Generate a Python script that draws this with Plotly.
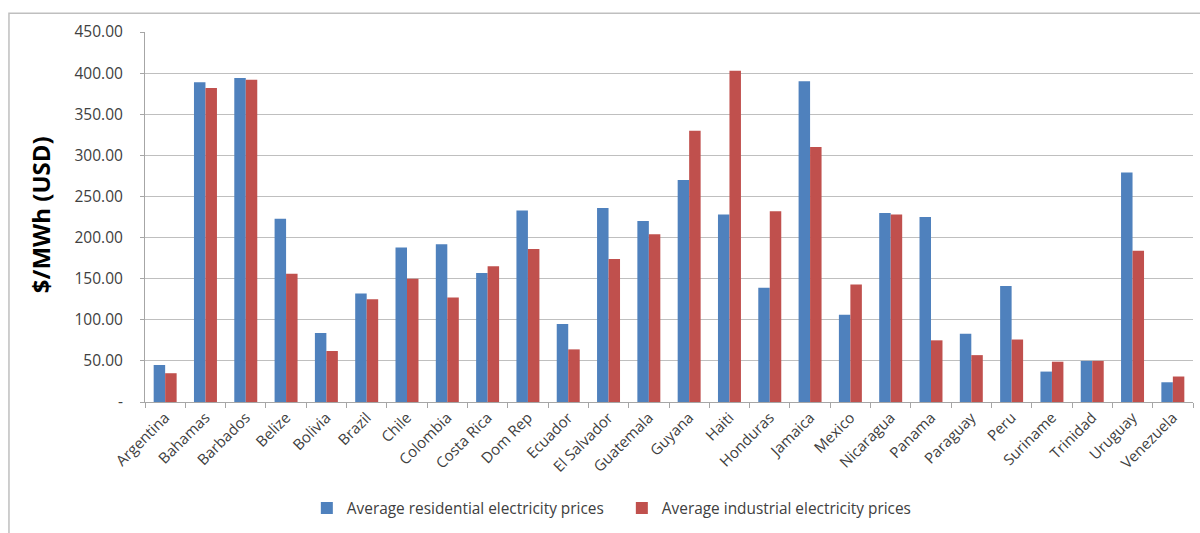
import plotly.graph_objects as go

countries = ["Argentina", "Bahamas", "Barbados", "Belize", "Bolivia", "Brazil", "Chile",
             "Colombia", "Costa Rica", "Dom Rep", "Ecuador", "El Salvador", "Guatemala",
             "Guyana", "Haiti", "Honduras", "Jamaica", "Mexico", "Nicaragua", "Panama",
             "Paraguay", "Peru", "Suriname", "Trinidad", "Uruguay", "Venezuela"]

residential = [45, 389, 394, 223, 84, 132, 188, 192, 157, 233, 95, 236, 220,
               270, 228, 139, 390, 106, 230, 225, 83, 141, 37, 50, 279, 24]

industrial = [35, 382, 392, 156, 62, 125, 150, 127, 165, 186, 64, 174, 204,
              330, 403, 232, 310, 143, 228, 75, 57, 76, 49, 50, 184, 31]

y_ticks = [0, 50, 100, 150, 200, 250, 300, 350, 400, 450]
y_tick_text = ["-", "50.00", "100.00", "150.00", "200.00", "250.00",
               "300.00", "350.00", "400.00", "450.00"]

FONT = "Open Sans"
TEXT = "#404040"

fig = go.Figure()
fig.add_trace(go.Bar(x=countries, y=residential, name="Average residential electricity prices",
                     marker=dict(color="#4F81BD", line=dict(width=0))))
fig.add_trace(go.Bar(x=countries, y=industrial, name="Average industrial electricity prices",
                     marker=dict(color="#C0504D", line=dict(width=0))))

fig.update_layout(
    width=1200, height=533,
    margin=dict(l=145, r=7, t=32, b=129),
    paper_bgcolor="white", plot_bgcolor="white",
    barmode="group", bargap=0.43, bargroupgap=0,
    font=dict(family=FONT, size=15, color=TEXT),
    showlegend=True,
    legend=dict(orientation="h", x=0.455, xanchor="center", y=-0.288, yanchor="middle",
                font=dict(family=FONT, size=15.4, color=TEXT),
                itemwidth=30, entrywidth=270, traceorder="normal"),
    xaxis=dict(
        tickangle=-45, tickfont=dict(family=FONT, size=15, color=TEXT),
        showline=True, linecolor="#A6A6A6", linewidth=1,
        ticks="outside", tickson="boundaries", ticklen=5, tickcolor="#A6A6A6",
        showgrid=False, range=[-0.5, 25.5],
    ),
    yaxis=dict(
        range=[0, 450], tickvals=y_ticks, ticktext=y_tick_text,
        tickfont=dict(family=FONT, size=15.5, color=TEXT),
        showline=True, linecolor="#A6A6A6", linewidth=1,
        ticks="outside", ticklen=4, tickcolor="#A6A6A6",
        showgrid=True, gridcolor="#BFBFBF", gridwidth=1,
        zeroline=False, ticklabelstandoff=14,
    ),
    shapes=[dict(type="rect", xref="paper", yref="paper",
                 x0=-0.1298, x1=1.03, y0=-0.5, y1=1.051,
                 line=dict(color="#BFBFBF", width=1.5), fillcolor="rgba(0,0,0,0)",
                 layer="below")],
    annotations=[dict(text="<b>$/MWh (USD)</b>", xref="paper", yref="paper",
                      x=(40 - 145) / 1048, y=0.505, textangle=-90, showarrow=False,
                      xanchor="center", yanchor="middle",
                      font=dict(family=FONT, size=24, color="#000000"))],
)

fig.write_html("out.html")
